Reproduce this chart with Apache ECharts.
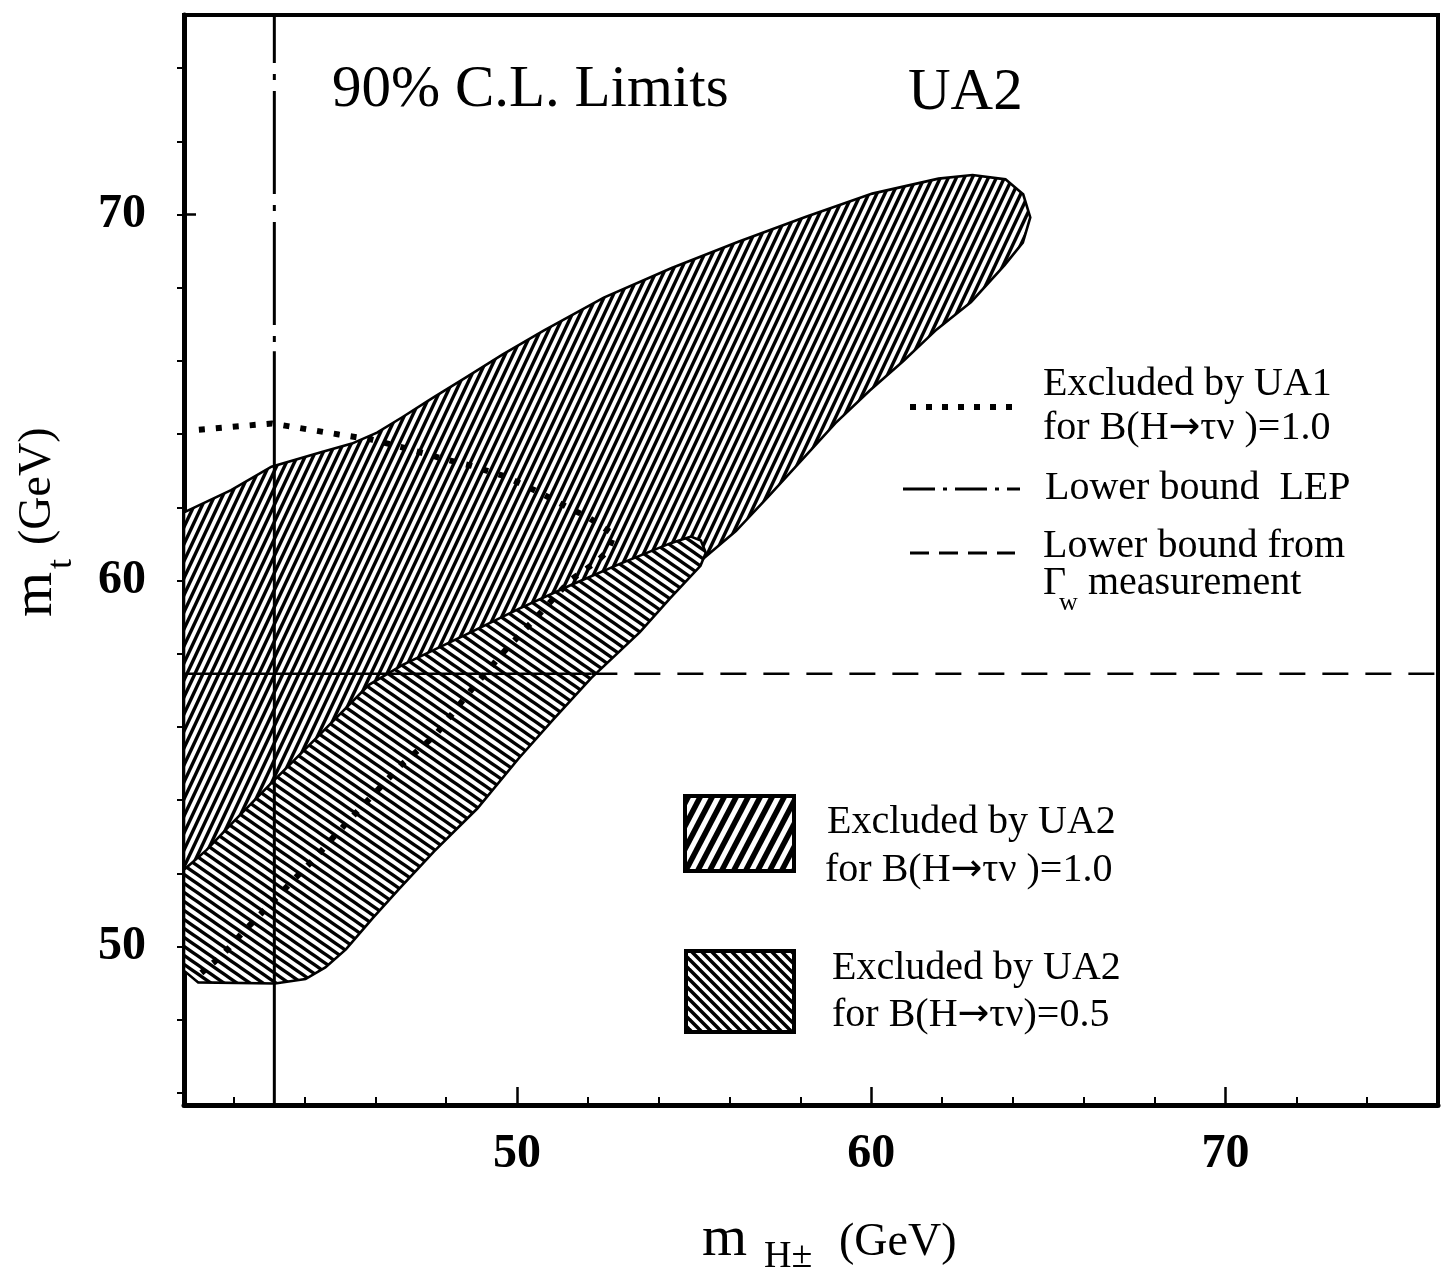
<!DOCTYPE html>
<html>
<head>
<meta charset="utf-8">
<title>UA2 90% C.L. Limits</title>
<script src="https://cdn.jsdelivr.net/npm/echarts@6.0.0/dist/echarts.min.js"></script>
<style>
  html, body { margin: 0; padding: 0; background: #fff; }
  #main { width: 1445px; height: 1272px; }
</style>
</head>
<body>
<div id="main"></div>
<script>
// axis ticks
var xMajorTicks = [50, 60, 70];
var xMinorTicks = [42, 44, 46, 48, 52, 54, 56, 58, 62, 64, 66, 68, 72, 74];
var yMajorTicks = [50, 60, 70];
var yAllTicks = [46, 48, 50, 52, 54, 56, 58, 60, 62, 64, 66, 68, 70, 72, 74];

// excluded by UA2, B(H->tau nu) = 1.0  (m_H, m_t)
var ua2Full = [
  [40.6, 61.86], [41.93, 62.47], [43.07, 63.11], [44.49, 63.51], [45.34, 63.74],
  [46.05, 64.04], [46.76, 64.46], [47.61, 64.98], [48.55, 65.54], [49.60, 66.18],
  [50.74, 66.82], [52.45, 67.73], [54.35, 68.53], [56.23, 69.25], [58.14, 69.93],
  [60.03, 70.57], [61.90, 70.98], [62.86, 71.08], [63.79, 70.96], [64.29, 70.55],
  [64.49, 69.92], [64.28, 69.23], [63.76, 68.61], [62.82, 67.61], [61.85, 66.86],
  [60.90, 65.99], [59.96, 65.19], [58.99, 64.30], [58.05, 63.30], [57.10, 62.30],
  [56.18, 61.35], [54.9, 60.3], [48.07, 55.90], [40.6, 51.34]
];

// excluded by UA2, B(H->tau nu) = 0.5
var ua2Half = [
  [40.6, 52.10], [41.24, 52.64], [42.02, 53.43], [43.05, 54.45], [44.39, 55.75],
  [45.82, 57.15], [46.76, 57.69], [48.66, 58.57], [50.08, 59.24], [51.51, 59.87],
  [52.92, 60.46], [54.34, 61.02], [54.91, 61.20], [55.19, 61.09], [55.33, 60.76],
  [55.18, 60.40], [54.32, 59.51], [53.47, 58.59], [52.10, 57.34], [51.04, 56.22],
  [50.04, 55.13], [48.88, 53.77], [47.66, 52.60], [46.68, 51.58], [45.94, 50.79],
  [45.17, 49.92], [44.59, 49.43], [44.03, 49.11], [43.17, 48.99], [41.00, 49.02],
  [40.6, 49.34]
];

// excluded by UA1 (dotted)
var ua1Limit = [
  [41.02, 64.12], [43.08, 64.29], [44.97, 63.99], [45.90, 63.85], [46.83, 63.62],
  [47.79, 63.36], [48.72, 63.13], [49.65, 62.85], [50.60, 62.42], [51.53, 61.95],
  [52.01, 61.73], [52.74, 61.25], [52.57, 60.82], [52.28, 60.54], [51.51, 60.01],
  [50.56, 59.01], [49.59, 58.01], [48.64, 56.93], [47.69, 55.77], [46.73, 54.96],
  [46.15, 54.36], [45.49, 53.69], [44.84, 53.01], [44.27, 52.39], [43.58, 51.71],
  [42.92, 51.04], [42.29, 50.42], [41.69, 49.77], [41.09, 49.28]
];

// LEP lower bound on m_H (dash-dot above, solid below)
var lepUpper = [[43.15, 75.45], [43.15, 66.26]];
var lepLower = [[43.15, 66.26], [43.15, 45.67]];

// lower bound on m_t from Gamma_W
var gammaWSolid = [[40.6, 57.45], [52.1, 57.45]];
var gammaWDashed = [[52.1, 57.45], [76.0, 57.45]];

var SERIF = 'Liberation Serif';

function hatch(a, b, w, slash) {
  var c = document.createElement('canvas');
  c.width = a;
  c.height = b;
  var g = c.getContext('2d');
  g.fillStyle = '#fff';
  g.fillRect(0, 0, a, b);
  g.strokeStyle = '#000';
  g.lineWidth = w;
  for (var n = -2; n <= 2; n++) {
    g.beginPath();
    if (slash) {
      g.moveTo(n * a - a, 2 * b);
      g.lineTo(n * a + 2 * a, -b);
    } else {
      g.moveTo(n * a - a, -b);
      g.lineTo(n * a + 2 * a, 2 * b);
    }
    g.stroke();
  }
  return c;
}

var slashFill = hatch(8, 17, 3.4, true);
var backFill = hatch(13, 9, 3.4, false);

function region(points, tile) {
  return {
    type: 'custom',
    coordinateSystem: 'cartesian2d',
    clip: true,
    silent: true,
    data: [points[0]],
    renderItem: function (params, api) {
      return {
        type: 'polygon',
        shape: { points: points.map(function (p) { return api.coord(p); }) },
        style: { fill: { image: tile, repeat: 'repeat' }, stroke: '#000', lineWidth: 2.6 }
      };
    }
  };
}

function line(data, width, type, offset) {
  return {
    type: 'line',
    data: data,
    symbol: 'none',
    silent: true,
    lineStyle: { color: '#000', width: width, type: type, dashOffset: offset || 0, cap: 'butt' }
  };
}

// text helper; arrows use DejaVu Sans so they look like the printed one
function txt(x, y, text, size, extra) {
  var el = {
    type: 'text', x: x, y: y, silent: true,
    style: {
      text: text, fill: '#000', fontSize: size, fontFamily: SERIF, align: 'left', verticalAlign: 'middle',
      rich: {
        arr: { fontFamily: 'DejaVu Sans', fontSize: size * 0.95, verticalAlign: 'middle' },
        s: { fontFamily: SERIF, fontSize: size, verticalAlign: 'middle' }
      }
    }
  };
  if (extra) { for (var k in extra) el[k] = extra[k]; }
  return el;
}

function seg(x1, x2, y, width, dash) {
  return {
    type: 'line', silent: true,
    shape: { x1: x1, y1: y, x2: x2, y2: y },
    style: { stroke: '#000', lineWidth: width, lineDash: dash }
  };
}

var chartDom = document.getElementById('main');
var myChart = echarts.init(chartDom);

var labelStyle = { color: '#000', fontFamily: SERIF, fontWeight: 'bold', fontSize: 48 };

var option = {
  animation: false,
  backgroundColor: '#fff',
  grid: {
    left: 184, top: 15, right: 7, bottom: 167,
    show: true, borderColor: '#000', borderWidth: 4,
    outerBoundsMode: 'none'
  },
  xAxis: [
    {
      type: 'value', min: 40.6, max: 76.0, position: 'bottom',
      axisLine: { show: true, onZero: false, lineStyle: { color: '#000', width: 5 } },
      axisTick: { show: true, inside: true, length: 18, customValues: xMajorTicks, lineStyle: { color: '#000', width: 2.5 } },
      axisLabel: Object.assign({ margin: 26, customValues: xMajorTicks }, labelStyle),
      splitLine: { show: false }
    },
    {
      type: 'value', min: 40.6, max: 76.0, position: 'bottom',
      axisLine: { show: false, onZero: false },
      axisTick: { show: true, inside: true, length: 8, customValues: xMinorTicks, lineStyle: { color: '#000', width: 2 } },
      axisLabel: { show: false },
      splitLine: { show: false }
    }
  ],
  yAxis: [
    {
      type: 'value', min: 45.67, max: 75.45, position: 'left',
      axisLine: { show: true, onZero: false, lineStyle: { color: '#000', width: 5 } },
      axisTick: { show: true, inside: false, length: 7, customValues: yAllTicks, lineStyle: { color: '#000', width: 2 } },
      axisLabel: Object.assign({ margin: 38, customValues: yMajorTicks }, labelStyle),
      splitLine: { show: false }
    },
    {
      type: 'value', min: 45.67, max: 75.45, position: 'left',
      axisLine: { show: false, onZero: false },
      axisTick: { show: true, inside: true, length: 12, customValues: yMajorTicks, lineStyle: { color: '#000', width: 2.5 } },
      axisLabel: { show: false },
      splitLine: { show: false }
    }
  ],
  series: [
    region(ua2Full, slashFill),
    region(ua2Half, backFill),
    line(ua1Limit, 6, [6, 11]),
    line(lepUpper, 3, [103, 11, 6, 11], 55),
    line(lepLower, 3, 'solid'),
    line(gammaWSolid, 2.5, 'solid'),
    line(gammaWDashed, 2.5, [26, 17])
  ],
  graphic: [
    txt(332, 90, '90% C.L. Limits', 59),
    txt(908, 93, 'UA2', 59),

    seg(910, 1015, 407, 6, [6, 10]),
    txt(1043, 384, 'Excluded by UA1', 40),
    txt(1043, 428, '{s|for B(H}{arr|\u2192}{s|\u03c4\u03bd )=1.0}', 40),
    seg(903, 1020, 489, 3, [32, 8, 4, 8]),
    txt(1045, 488, 'Lower bound  LEP', 40),
    seg(910, 1015, 553, 3, [19, 10]),
    txt(1043, 546, 'Lower bound from', 40),
    txt(1043, 583, '\u0393', 40),
    txt(1059, 603, 'w', 26),
    txt(1088, 583, 'measurement', 40),

    {
      type: 'rect', silent: true,
      shape: { x: 685, y: 796, width: 109, height: 75 },
      style: { fill: { image: hatch(12, 23, 5.5, true), repeat: 'repeat' }, stroke: '#000', lineWidth: 4 }
    },
    txt(827, 822, 'Excluded by UA2', 40),
    txt(825, 870, '{s|for B(H}{arr|\u2192}{s|\u03c4\u03bd )=1.0}', 40),
    {
      type: 'rect', silent: true,
      shape: { x: 686, y: 951, width: 108, height: 81 },
      style: { fill: { image: hatch(10, 10, 3.5, false), repeat: 'repeat' }, stroke: '#000', lineWidth: 4 }
    },
    txt(832, 968, 'Excluded by UA2', 40),
    txt(832, 1015, '{s|for B(H}{arr|\u2192}{s|\u03c4\u03bd)=0.5}', 40),

    // axis titles
    txt(702, 1240, 'm', 58),
    txt(764, 1257, 'H\u00b1', 38),
    txt(839, 1243, '(GeV)', 46),
    txt(36, 617, 'm', 58, { rotation: Math.PI / 2 }),
    txt(62, 569, 't', 36, { rotation: Math.PI / 2 }),
    txt(38, 545, '(GeV)', 46, { rotation: Math.PI / 2 })
  ]
};

option && myChart.setOption(option);
</script>
</body>
</html>
